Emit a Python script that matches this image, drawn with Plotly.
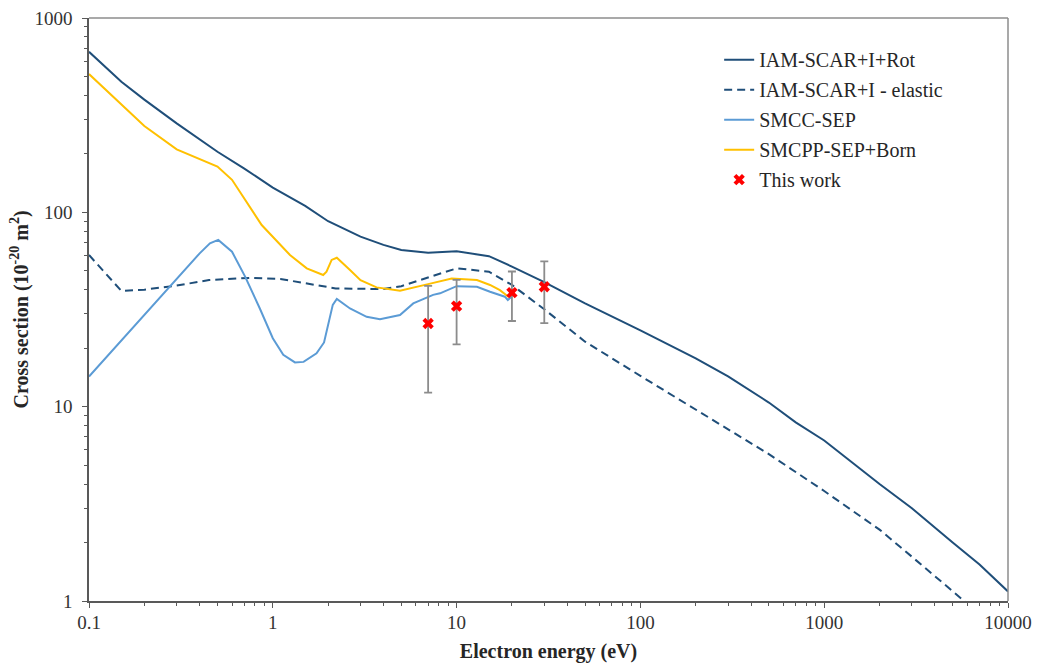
import plotly.graph_objects as go

# IAM-SCAR+I+Rot (solid dark blue)
x_rot = [0.1, 0.15, 0.2, 0.3, 0.5, 0.7, 1, 1.5, 2, 2.5, 3, 4, 5, 7, 10, 15, 20, 30, 50,
         100, 200, 300, 500, 700, 1000, 2000, 3000, 5000, 7000, 10000]
y_rot = [670, 470, 380, 287, 205, 168, 134, 108, 90, 81, 75, 68, 64, 62, 63, 59.5, 52.6, 43.7, 34,
         24.7, 17.7, 14.3, 10.5, 8.3, 6.7, 4.0, 3.0, 2.0, 1.54, 1.12]

# IAM-SCAR+I - elastic (dashed dark blue)
x_el = [0.1, 0.15, 0.2, 0.3, 0.45, 0.75, 1.1, 1.6, 2.2, 3, 4, 5, 7, 10, 15, 20, 30, 50,
        100, 200, 500, 1000, 2000, 3000, 5000, 6000]
y_el = [60.3, 39.4, 40, 42, 44.8, 46, 45.4, 42.6, 40.6, 40.4, 40.3, 41.7, 46, 51.5, 49.5, 42.3, 31.7, 21.6,
        14.4, 9.65, 5.7, 3.68, 2.33, 1.69, 1.13, 0.97]

# SMCC-SEP (light blue)
x_smcc = [0.1, 0.4, 0.455, 0.505, 0.6, 0.707, 0.85, 1.0, 1.14, 1.32, 1.47, 1.73, 1.9, 2.0, 2.12,
          2.23, 2.63, 3.24, 3.83, 4.92, 5.81, 7.45, 8.13, 10, 12.9, 15.2, 18.3, 19, 20]
y_smcc = [14.3, 61.5, 69.3, 72.1, 62.7, 46.7, 32, 22.5, 18.5, 16.9, 17.0, 18.8, 21.4, 26.8, 33.4,
          35.8, 32, 29, 28.2, 29.6, 34, 37.6, 38.3, 41.7, 41.4, 39, 36.8, 35.4, 37]

# SMCPP-SEP+Born (yellow)
x_smcpp = [0.1, 0.2, 0.3, 0.5, 0.6, 0.87, 1.24, 1.53, 1.88, 1.96, 2.09, 2.23, 2.63, 3.0, 3.67,
           4.92, 7, 9.4, 12.9, 15.2, 17.2, 19, 20]
y_smcpp = [515, 278, 211, 172, 147, 86, 60.3, 51.5, 47.6, 49.5, 56.9, 58.4, 50.5, 44.8, 41.1,
           39.5, 42.7, 45.7, 44.8, 42.3, 39.8, 37, 38]

# This work (measurements with error bars)
x_exp = [7, 10, 20, 30]
y_exp = [26.8, 32.9, 38.6, 41.4]
err_exp = [15, 12, 11, 14.5]

names = ["IAM-SCAR+I+Rot", "IAM-SCAR+I - elastic", "SMCC-SEP", "SMCPP-SEP+Born", "This work"]

x_tickvals = [0.1, 1, 10, 100, 1000, 10000]
x_ticktext = ["0.1", "1", "10", "100", "1000", "10000"]
y_tickvals = [1, 10, 100, 1000]
y_ticktext = ["1", "10", "100", "1000"]

DARK = "#1F4E79"
LIGHT = "#5B9BD5"
YELLOW = "#FFC000"
FONT = "Liberation Serif"

fig = go.Figure()
fig.add_trace(go.Scatter(x=x_rot, y=y_rot, mode="lines", name=names[0], legendgroup="a",
                         line=dict(color=DARK, width=2)))
fig.add_trace(go.Scatter(x=x_el, y=y_el, mode="lines", name=names[1], legendgroup="b",
                         line=dict(color=DARK, width=2, dash="8px,5px")))
fig.add_trace(go.Scatter(x=x_smcc, y=y_smcc, mode="lines", name=names[2], legendgroup="c",
                         line=dict(color=LIGHT, width=2)))
fig.add_trace(go.Scatter(x=x_smcpp, y=y_smcpp, mode="lines", name=names[3], legendgroup="d",
                         line=dict(color=YELLOW, width=2)))
fig.add_trace(go.Scatter(x=x_exp, y=y_exp, mode="markers", name=names[4], legendgroup="e",
                         marker=dict(symbol="x", size=10, color="#FF0000", line=dict(width=0)),
                         error_y=dict(type="data", array=err_exp, visible=True,
                                      color="#8C8C8C", thickness=1.8, width=4)))

axis_common = dict(
    type="log", showgrid=False, zeroline=False, automargin=False,
    showline=True, linecolor="#595959", linewidth=1.5,
    ticks="outside", ticklen=5, tickwidth=1.2, tickcolor="#595959",
    tickmode="array",
    minor=dict(ticks="outside", ticklen=3, tickwidth=1, tickcolor="#595959", dtick="D1", showgrid=False),
    tickfont=dict(family=FONT, size=19, color="#333333"),
)

fig.update_xaxes(range=[-1, 4], tickvals=x_tickvals, ticktext=x_ticktext, ticklabelstandoff=-2,
                 title=dict(text="<b>Electron energy (eV)</b>", font=dict(family=FONT, size=20, color="#262626"),
                            standoff=12),
                 **axis_common)
fig.update_yaxes(range=[0, 3], tickvals=y_tickvals, ticktext=y_ticktext, ticklabelstandoff=6,
                 **axis_common)

fig.update_layout(
    width=1037, height=664,
    margin=dict(l=89, r=29, t=18, b=63),
    paper_bgcolor="white", plot_bgcolor="white",
    showlegend=True,
    legend=dict(x=0.6857, y=0.962, xanchor="left", yanchor="top",
                bgcolor="rgba(0,0,0,0)", borderwidth=0, tracegroupgap=1,
                font=dict(family=FONT, size=20, color="#262626")),
    shapes=[
        dict(type="line", xref="paper", yref="paper", x0=0, x1=1, y0=1, y1=1,
             line=dict(color="#8C8C8C", width=1.5)),
        dict(type="line", xref="paper", yref="paper", x0=1, x1=1, y0=0, y1=1,
             line=dict(color="#8C8C8C", width=1.5)),
    ],
    annotations=[
        dict(text="<b>Cross section (10<sup>-20</sup> m<sup>2</sup>)</b>", textangle=-90,
             xref="paper", yref="paper", x=-0.0751, y=0.5, xanchor="center", yanchor="middle",
             showarrow=False, font=dict(family=FONT, size=20, color="#262626")),
    ],
)

fig.write_html("out.html", config={"displayModeBar": False},
               post_script="document.body.style.margin='0px';document.body.style.overflow='hidden';")
